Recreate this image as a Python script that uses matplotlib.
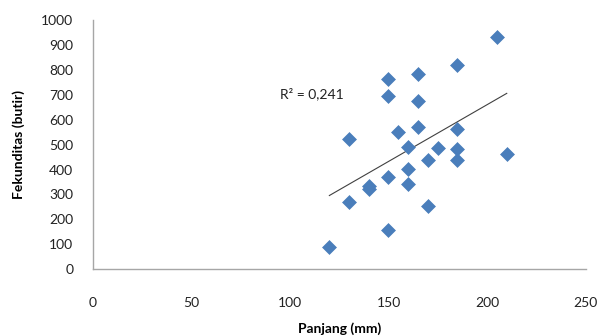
import numpy as np
import matplotlib
matplotlib.use("Agg")
import matplotlib.pyplot as plt

# Data
panjang = [120, 130, 130, 140, 140, 150, 150, 150, 150, 155, 160, 160, 160,
           165, 165, 165, 170, 170, 175, 185, 185, 185, 185, 205, 210]
fekunditas = [89, 523, 271, 334, 322, 765, 695, 371, 157, 550, 492, 404, 341,
              783, 677, 573, 439, 254, 488, 822, 565, 482, 439, 935, 463]
r2_label = "R² = 0,241"
x_ticks = [0, 50, 100, 150, 200, 250]
y_ticks = [0, 100, 200, 300, 400, 500, 600, 700, 800, 900, 1000]

plt.rcParams['font.family'] = ['Lato', 'DejaVu Sans']

fig = plt.figure(figsize=(6, 3.36), dpi=100)
ax = fig.add_axes([0.1547, 0.1994, 0.8213, 0.7396])

ax.scatter(panjang, fekunditas, marker='D', s=50, color='#4A7EBB',
           edgecolors='#4A7EBB', linewidths=0.5, zorder=3)

# linear trend line
coef = np.polyfit(panjang, fekunditas, 1)
xs = np.array([min(panjang), max(panjang)])
ax.plot(xs, np.polyval(coef, xs), color='#404040', lw=0.8, zorder=2)

ax.text(95, 704, r2_label, fontsize=10, va='center', ha='left', color='#222222')

ax.set_xlim(0, 250)
ax.set_ylim(0, 1000)
ax.set_xticks(x_ticks)
ax.set_yticks(y_ticks)
ax.tick_params(length=0, labelsize=10, colors='#222222')
ax.tick_params(axis='x', pad=20)
ax.tick_params(axis='y', pad=14)
for s in ['top', 'right']:
    ax.spines[s].set_visible(False)
for s in ['left', 'bottom']:
    ax.spines[s].set_color('#A6A6A6')
    ax.spines[s].set_linewidth(1.0)

ax.set_xlabel('Panjang (mm)', fontsize=10, fontweight='bold', labelpad=10)
ax.set_ylabel('Fekunditas (butir)', fontsize=10, fontweight='bold', labelpad=12)

fig.savefig('out.png', dpi=100)
